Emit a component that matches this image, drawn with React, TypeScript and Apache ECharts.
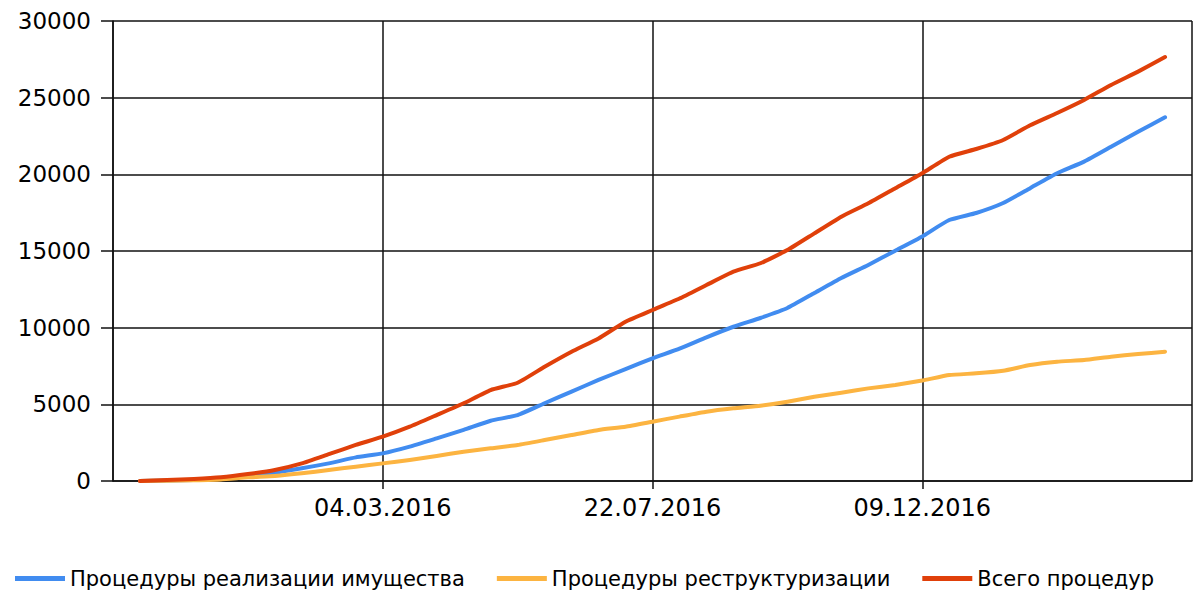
import React, { useEffect, useRef } from "react";
import * as echarts from "echarts";

const axisStart = "16.10.2015";
const axisSpanDays = 560;
const axisStepDays = 140;

const dates = [
  "30.10.2015", "13.11.2015", "27.11.2015", "11.12.2015", "25.12.2015",
  "08.01.2016", "22.01.2016", "05.02.2016", "19.02.2016", "04.03.2016",
  "18.03.2016", "01.04.2016", "15.04.2016", "29.04.2016", "13.05.2016",
  "27.05.2016", "10.06.2016", "24.06.2016", "08.07.2016", "22.07.2016",
  "05.08.2016", "19.08.2016", "02.09.2016", "16.09.2016", "30.09.2016",
  "14.10.2016", "28.10.2016", "11.11.2016", "25.11.2016", "09.12.2016",
  "23.12.2016", "06.01.2017", "20.01.2017", "03.02.2017", "17.02.2017",
  "03.03.2017", "17.03.2017", "31.03.2017", "14.04.2017",
];

const propertySales = [
  0, 30, 70, 150, 330, 540, 830, 1150, 1540, 1800,
  2240, 2780, 3330, 3930, 4300, 5070, 5830, 6590, 7300, 8000,
  8630, 9370, 10060, 10630, 11280, 12260, 13240, 14090, 15020, 15950,
  17020, 17480, 18130, 19100, 20070, 20830, 21800, 22780, 23720,
];

const restructuring = [
  0, 20, 50, 100, 240, 330, 500, 720, 930, 1150,
  1370, 1630, 1910, 2130, 2350, 2670, 3000, 3330, 3540, 3870,
  4200, 4520, 4740, 4910, 5170, 5500, 5760, 6040, 6260, 6550,
  6910, 7020, 7190, 7565, 7780, 7890, 8110, 8280, 8430,
];

const totalProcedures = [
  0, 60, 130, 240, 450, 720, 1150, 1750, 2350, 2890,
  3540, 4300, 5070, 5930, 6410, 7450, 8430, 9300, 10390, 11150,
  11900, 12780, 13650, 14200, 15060, 16150, 17240, 18110, 19090, 20070,
  21150, 21650, 22240, 23200, 24000, 24850, 25830, 26700, 27650,
];

const seriesNames = [
  "Процедуры реализации имущества",
  "Процедуры реструктуризации",
  "Всего процедур",
];
const seriesColors = ["#418CF0", "#FCB441", "#E0400A"];

const DAY = 86400000;
function parseDate(s: string): number {
  const [d, m, y] = s.split(".").map(Number);
  return Date.UTC(y, m - 1, d);
}
const origin = parseDate(axisStart);
function dayOffset(s: string): number {
  return Math.round((parseDate(s) - origin) / DAY);
}
function fmtDay(v: number): string {
  const dt = new Date(origin + v * DAY);
  const dd = String(dt.getUTCDate()).padStart(2, "0");
  const mm = String(dt.getUTCMonth() + 1).padStart(2, "0");
  return `${dd}.${mm}.${dt.getUTCFullYear()}`;
}

const FONT = "DejaVu Sans";
const GRID_COLOR = "#111";

export default function App() {
  const ref = useRef<HTMLDivElement>(null);
  useEffect(() => {
    if (!ref.current) return;
    const chart = echarts.init(ref.current, null, { renderer: "svg" });
    const values = [propertySales, restructuring, totalProcedures];
    chart.setOption({
      animation: false,
      backgroundColor: "#ffffff",
      grid: { left: 113, right: 1, top: 21, bottom: 111, containLabel: false },
      legend: {
        data: seriesNames,
        left: 10,
        top: 563,
        icon: "rect",
        itemWidth: 50,
        itemHeight: 5,
        itemGap: 32,
        textStyle: { fontFamily: FONT, fontSize: 21, color: "#000" },
      },
      xAxis: {
        type: "value",
        min: 0,
        max: axisSpanDays,
        interval: axisStepDays,
        axisLine: { show: true, lineStyle: { color: GRID_COLOR, width: 1.5 } },
        axisTick: { show: true, inside: false, length: 8, lineStyle: { color: GRID_COLOR, width: 1.5 } },
        splitLine: { show: true, lineStyle: { color: GRID_COLOR, width: 1.5 } },
        axisLabel: {
          showMinLabel: false,
          showMaxLabel: false,
          margin: 15,
          fontFamily: FONT,
          fontSize: 24,
          color: "#000",
          formatter: (v: number) => fmtDay(v),
        },
      },
      yAxis: {
        type: "value",
        min: 0,
        max: 30000,
        interval: 5000,
        axisLine: { show: true, lineStyle: { color: GRID_COLOR, width: 1.5 } },
        axisTick: { show: true, inside: false, length: 12, lineStyle: { color: GRID_COLOR, width: 1.5 } },
        splitLine: { show: true, lineStyle: { color: GRID_COLOR, width: 1.5 } },
        axisLabel: {
          margin: 22,
          fontFamily: FONT,
          fontSize: 23,
          color: "#000",
          formatter: (v: number) => String(v),
        },
      },
      series: seriesNames.map((name, i) => ({
        name,
        type: "line",
        symbol: "none",
        smooth: 0.15,
        color: seriesColors[i],
        lineStyle: { width: 4, color: seriesColors[i], join: "round", cap: "round" },
        data: dates.map((d, k) => [dayOffset(d), values[i][k]]),
        z: 2 + i,
      })),
    });
    return () => chart.dispose();
  }, []);
  return (
    <div
      ref={ref}
      style={{ position: "absolute", left: 0, top: 0, width: 1193, height: 592, background: "#fff" }}
    />
  );
}
